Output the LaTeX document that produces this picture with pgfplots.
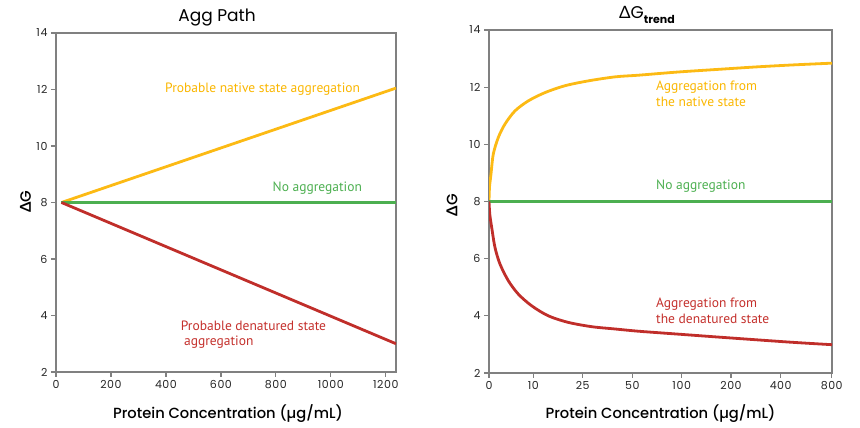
\documentclass[border=0pt]{standalone}
\usepackage{pgfplots}
\pgfplotsset{compat=1.18}
\usepackage{fontspec}
\setmainfont{Poppins}
\newfontfamily\med{Poppins Medium}
\newfontfamily\annot{PT Sans}
\newfontfamily\grk{Lato}
\definecolor{axgray}{RGB}{128,128,128}
\definecolor{cyel}{RGB}{252,186,20}
\definecolor{tyel}{RGB}{250,182,0}
\definecolor{cgrn}{RGB}{76,175,80}
\definecolor{cred}{RGB}{192,46,42}
\definecolor{tred}{RGB}{196,48,44}
\pgfplotsset{myax/.style={
  scale only axis, anchor=south west,
  axis line style={draw=axgray, line width=1.8pt},
  every tick/.style={draw=axgray, line width=1.2pt},
  tick align=outside, major tick length=5pt,
  xtick pos=bottom, ytick pos=left,
  ymin=2, ymax=14, ytick={2,4,...,14},
  tick label style={font=\fontsize{11}{13}\selectfont\addfontfeatures{LetterSpace=5}, text=black!85},
  /pgf/number format/assume math mode=true,
  /pgf/number format/1000 sep={},
  every axis plot/.append style={line width=2.8pt, line join=round},
}}
\begin{document}
\begin{tikzpicture}[x=1pt,y=1pt]
\useasboundingbox (0,0) rectangle (860,428);
\begin{axis}[myax, at={(56pt,56pt)}, width=340pt, height=339pt,
  xmin=0, xmax=1237, xtick={0,200,...,1200}]
\addplot[cyel] coordinates {(20,8) (1237,12.05)};
\addplot[cgrn] coordinates {(20,8) (1237,8)};
\addplot[cred] coordinates {(20,8) (1237,3)};
\end{axis}
\begin{axis}[myax, at={(489pt,55pt)}, width=343pt, height=343pt,
  xmin=0, xmax=343,
  xtick={0,44.3,93.7,143.3,192.7,242,291.7,342.7},
  xticklabels={0,10,25,50,100,200,400,800}]
\addplot[cyel, smooth, tension=0.5] coordinates {(0,8) (0.5,8.5) (2,8.96) (4.3,9.66) (9.3,10.24) (16,10.71) (26,11.17) (39.3,11.52) (56,11.81) (76,12.05) (99.3,12.22) (126,12.36) (150,12.42) (189,12.53) (228,12.62) (268,12.71) (305,12.78) (343,12.84)};
\addplot[cgrn] coordinates {(0,8) (343,8)};
\addplot[cred, smooth, tension=0.5] coordinates {(0,8) (0.8,7.55) (2.7,7.09) (6,6.39) (11,5.81) (19.3,5.23) (29.3,4.76) (42.7,4.35) (59.3,4.00) (79.3,3.77) (102.7,3.62) (126,3.54) (150,3.46) (189,3.36) (228,3.26) (268,3.16) (305,3.07) (343,2.99)};
\end{axis}
% titles
\node[anchor=base, font=\fontsize{17}{20}\selectfont] at (217,406) {Agg Path};
\node[anchor=base west, font=\fontsize{17}{20}\selectfont, inner sep=0pt] at (619,409) {{\grk Δ}G\raisebox{-4.5pt}{\fontsize{11}{13}\selectfont\bfseries trend}};
% axis labels
\node[anchor=base, font=\med\fontsize{14.7}{17}\selectfont] at (228,9) {Protein Concentration (µg/mL)};
\node[anchor=base, font=\med\fontsize{14.7}{17}\selectfont] at (660.5,9.7) {Protein Concentration (µg/mL)};
\node[rotate=90, font=\med\fontsize{15}{18}\selectfont] at (25.5,226.5) {{\grk\bfseries Δ}G};
\node[rotate=90, font=\med\fontsize{15}{18}\selectfont] at (452,223) {{\grk\bfseries Δ}G};
% annotations
\begin{scope}[every node/.style={anchor=base west, inner sep=0pt, font=\annot\fontsize{13.5}{16}\selectfont}]
\node[text=tyel] at (165,335) {Probable native state aggregation};
\node[text=cgrn] at (272.5,236) {No aggregation};
\node[text=tred] at (180.7,97) {Probable denatured state};
\node[text=tred] at (184,82) {aggregation};
\node[text=tyel] at (656,337.3) {Aggregation from};
\node[text=tyel] at (656,321.3) {the native state};
\node[text=cgrn] at (656,238) {No aggregation};
\node[text=tred] at (656,120) {Aggregation from};
\node[text=tred] at (656,104) {the denatured state};
\end{scope}
\end{tikzpicture}
\end{document}
